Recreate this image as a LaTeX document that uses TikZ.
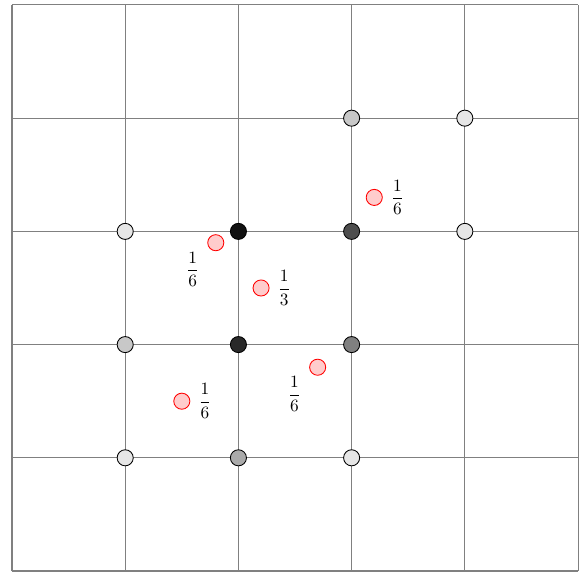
\documentclass[tikz,border=0pt]{standalone}
\usetikzlibrary{positioning}
\definecolor{gA}{HTML}{E6E6E6}
\definecolor{gB}{HTML}{C8C8C8}
\definecolor{gC}{HTML}{AAAAAA}
\definecolor{gD}{HTML}{808080}
\definecolor{gE}{HTML}{4D4D4D}
\definecolor{gF}{HTML}{111111}
\definecolor{pinkfill}{HTML}{FFCCCC}
\begin{document}
\begin{tikzpicture}[x=2.3cm,y=2.3cm,
  gridline/.style={draw=black!50,line width=0.6pt},
  vert/.style={circle,draw=black,line width=0.5pt,minimum size=9.3pt,inner sep=0pt},
  sample/.style={circle,draw=red,line width=0.5pt,fill=pinkfill,minimum size=9.3pt,inner sep=0pt},
  lab/.style={inner sep=0pt}]
\useasboundingbox (-0.106,-0.027) rectangle (5.035,5.044);
\foreach \i in {0,...,5} {
  \draw[gridline] (\i,0) -- (\i,5);
  \draw[gridline] (0,\i) -- (5,\i);
}
% lattice vertices
\node[vert,fill=gB] (v34) at (3,4) {};
\node[vert,fill=gA] (v44) at (4,4) {};
\node[vert,fill=gA] (v13) at (1,3) {};
\node[vert,fill=gF] (v23) at (2,3) {};
\node[vert,fill=gE] (v33) at (3,3) {};
\node[vert,fill=gA] (v43) at (4,3) {};
\node[vert,fill=gB] (v12) at (1,2) {};
\node[vert,fill=gF!90!white] (v22) at (2,2) {};
\node[vert,fill=gD] (v32) at (3,2) {};
\node[vert,fill=gA] (v11) at (1,1) {};
\node[vert,fill=gC] (v21) at (2,1) {};
\node[vert,fill=gA] (v31) at (3,1) {};
% samples
\node[sample] (s1) at (3.2,3.3) {};
\node[sample] (s2) at (1.8,2.9) {};
\node[sample] (s3) at (2.2,2.5) {};
\node[sample] (s4) at (2.7,1.8) {};
\node[sample] (s5) at (1.5,1.5) {};
% weights
\node[lab] (l1) at ([xshift=13.4pt]s1.center) {$\displaystyle\frac{1}{6}$};
\node[lab] (l2) at ([xshift=-13.4pt,yshift=-15.5pt]s2.center) {$\displaystyle\frac{1}{6}$};
\node[lab] (l3) at ([xshift=13.4pt]s3.center) {$\displaystyle\frac{1}{3}$};
\node[lab] (l4) at ([xshift=-13.4pt,yshift=-15.5pt]s4.center) {$\displaystyle\frac{1}{6}$};
\node[lab] (l5) at ([xshift=13.4pt]s5.center) {$\displaystyle\frac{1}{6}$};
\end{tikzpicture}
\end{document}
